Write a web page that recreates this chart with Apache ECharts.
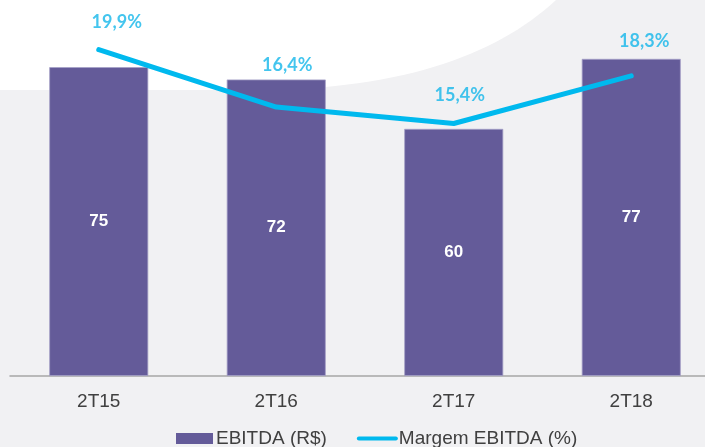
<!DOCTYPE html>
<html>
<head>
<meta charset="utf-8">
<script src="https://cdn.jsdelivr.net/npm/echarts@6/dist/echarts.min.js"></script>
<style>
  html, body { margin: 0; padding: 0; background: #f1f1f3; overflow: hidden; }
  /* a bit wider than the window: the right-most bar band runs off the slide */
  #main { width: 720px; height: 447px; }
</style>
</head>
<body>
<div id="main"></div>
<script>
// quarters
const categories = ['2T15', '2T16', '2T17', '2T18'];
// EBITDA (R$ milhoes)
const ebitda = [75, 72, 60, 77];
// margem EBITDA (%)
const margem = [19.9, 16.4, 15.4, 18.3];

// little nudges for the % labels, like in the original slide
const labelShift = [[18, -13], [11, -27], [6, -14], [13, -20]];

// white swoosh at the top of the slide (cubic bezier sampled into a polygon)
function swoosh() {
    let p0 = [556, 0], p1 = [500, 52], p2 = [410, 88], p3 = [265, 90];
    let pts = [[0, 0]];
    for (let i = 0; i <= 30; i++) {
        let t = i / 30, u = 1 - t;
        pts.push([
            u * u * u * p0[0] + 3 * u * u * t * p1[0] + 3 * u * t * t * p2[0] + t * t * t * p3[0],
            u * u * u * p0[1] + 3 * u * u * t * p1[1] + 3 * u * t * t * p2[1] + t * t * t * p3[1]
        ]);
    }
    pts.push([0, 90]);
    return pts;
}

let chart = echarts.init(document.getElementById('main'));

let option = {
    backgroundColor: '#f1f1f3',
    animation: false,
    graphic: [{
        type: 'polygon',
        z: -10,
        silent: true,
        shape: { points: swoosh() },
        style: { fill: '#ffffff' }
    }],
    grid: { left: 10, right: 0, top: 0, bottom: 71 },
    legend: {
        left: 176,
        top: 429,
        padding: 0,
        itemWidth: 37,
        itemHeight: 11,
        itemGap: 30,
        textStyle: { fontFamily: 'Liberation Sans', fontSize: 19, color: '#404040', padding: [0, 0, 0, -2] },
        data: [
            { name: 'EBITDA (R$)', icon: 'rect', itemStyle: { borderWidth: 0 } },
            { name: 'Margem EBITDA (%)', icon: 'inherit', lineStyle: { width: 4 }, itemStyle: { opacity: 0 } }
        ]
    },
    xAxis: {
        type: 'category',
        data: categories,
        axisLine: { lineStyle: { color: '#a6a6a6', width: 1.5 } },
        axisTick: { show: false },
        axisLabel: { fontFamily: 'Liberation Sans', fontSize: 19, color: '#404040', margin: 16 }
    },
    yAxis: [
        { type: 'value', min: 0, max: 91.3, show: false, splitLine: { show: false } },
        { type: 'value', min: 0, max: 22.93, show: false, splitLine: { show: false } }
    ],
    series: [{
        name: 'EBITDA (R$)',
        type: 'bar',
        data: ebitda,
        barWidth: 99,
        itemStyle: { color: '#645b99', borderColor: '#a59fc6', borderWidth: 0.8 },
        label: {
            show: true,
            position: 'inside',
            color: '#ffffff',
            fontFamily: 'Liberation Sans',
            fontWeight: 'bold',
            fontSize: 17
        }
    }, {
        name: 'Margem EBITDA (%)',
        type: 'line',
        yAxisIndex: 1,
        data: margem,
        symbol: 'none',
        lineStyle: { color: '#00b9ee', width: 5, cap: 'round', join: 'round' },
        itemStyle: { color: '#00b9ee' }
    }, {
        // only carries the % labels of the margin line
        name: 'margem-labels',
        type: 'scatter',
        yAxisIndex: 1,
        silent: true,
        symbolSize: 1,
        itemStyle: { color: 'transparent' },
        data: margem.map((v, i) => ({
            value: v,
            label: { offset: labelShift[i] }
        })),
        label: {
            show: true,
            position: 'top',
            color: '#14b6ea',
            fontFamily: 'Lato',
            fontWeight: 'bold',
            fontSize: 18,
            formatter: p => p.value.toFixed(1).replace('.', ',') + '%'
        }
    }]
};

chart.setOption(option);
</script>
</body>
</html>
